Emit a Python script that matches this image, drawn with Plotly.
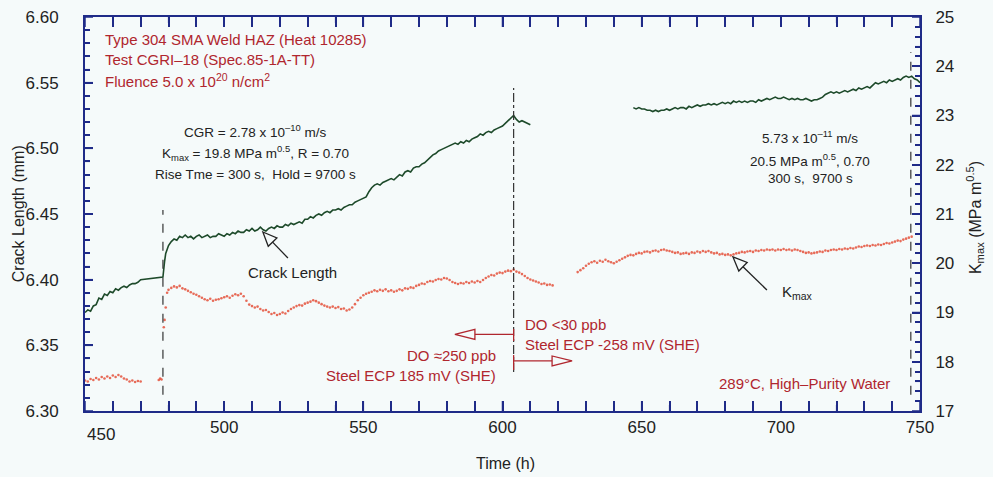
import numpy as np
import plotly.graph_objects as go

# ---------------- data ----------------
# Crack length (mm)
crack_a_start = 450          # hourly readings 450-470 h
crack_a = [6.375, 6.377, 6.376, 6.380, 6.381, 6.386, 6.385, 6.389, 6.388, 6.391,
           6.390, 6.393, 6.392, 6.394, 6.395, 6.394, 6.396, 6.397, 6.397, 6.398,
           6.400]
crack_jump_t = [478.0, 478.6]
crack_jump = [6.402, 6.414]
crack_b_start = 479          # hourly readings 479-610 h
crack_b = [6.420, 6.426, 6.429, 6.431, 6.430, 6.433, 6.432, 6.434, 6.432, 6.433,
           6.431, 6.433, 6.434, 6.432, 6.433, 6.434, 6.432, 6.433, 6.433, 6.435,
           6.434, 6.433, 6.435, 6.434, 6.436, 6.435, 6.437, 6.436, 6.436, 6.438,
           6.437, 6.439, 6.437, 6.438, 6.440, 6.438, 6.437, 6.439, 6.440, 6.439,
           6.441, 6.440, 6.440, 6.442, 6.441, 6.443, 6.442, 6.443, 6.444, 6.443,
           6.446, 6.446, 6.448, 6.447, 6.449, 6.450, 6.449, 6.451, 6.452, 6.451,
           6.453, 6.453, 6.454, 6.453, 6.455, 6.456, 6.457, 6.457, 6.459, 6.460,
           6.461, 6.462, 6.463, 6.467, 6.470, 6.472, 6.473, 6.472, 6.474, 6.475,
           6.476, 6.477, 6.476, 6.478, 6.480, 6.479, 6.482, 6.483, 6.482, 6.485,
           6.486, 6.486, 6.488, 6.489, 6.491, 6.493, 6.495, 6.496, 6.498, 6.499,
           6.500, 6.501, 6.502, 6.503, 6.504, 6.503, 6.505, 6.504, 6.506, 6.505,
           6.507, 6.508, 6.509, 6.511, 6.510, 6.512, 6.513, 6.512, 6.514, 6.515,
           6.516, 6.517, 6.519, 6.521, 6.523, 6.525, 6.522, 6.520, 6.521, 6.520,
           6.519, 6.518]
crack_c_start = 647          # hourly readings 647-750 h
crack_c = [6.531, 6.530, 6.531, 6.530, 6.530, 6.529, 6.529, 6.528, 6.529, 6.528,
           6.529, 6.529, 6.530, 6.529, 6.530, 6.531, 6.530, 6.531, 6.531, 6.530,
           6.532, 6.531, 6.532, 6.533, 6.532, 6.533, 6.533, 6.534, 6.533, 6.534,
           6.533, 6.534, 6.535, 6.534, 6.535, 6.534, 6.536, 6.535, 6.536, 6.535,
           6.536, 6.535, 6.536, 6.536, 6.535, 6.537, 6.536, 6.537, 6.538, 6.537,
           6.538, 6.539, 6.538, 6.538, 6.539, 6.538, 6.537, 6.538, 6.537, 6.538,
           6.537, 6.537, 6.538, 6.537, 6.536, 6.537, 6.537, 6.538, 6.539, 6.541,
           6.542, 6.543, 6.542, 6.543, 6.542, 6.543, 6.544, 6.543, 6.544, 6.545,
           6.544, 6.546, 6.545, 6.546, 6.547, 6.546, 6.548, 6.550, 6.549, 6.550,
           6.551, 6.550, 6.552, 6.551, 6.552, 6.553, 6.552, 6.554, 6.555, 6.554,
           6.555, 6.553, 6.552, 6.550]

# Kmax (MPa m^0.5)
kmax_a_start = 450           # hourly readings 450-470 h
kmax_a = [17.62, 17.60, 17.65, 17.63, 17.67, 17.64, 17.69, 17.66, 17.70, 17.67,
          17.72, 17.69, 17.73, 17.70, 17.66, 17.64, 17.60, 17.62, 17.59, 17.61,
          17.60]
kmax_mid_t = [476.5, 477.0, 477.5, 478.3, 478.6, 479.0, 479.5]
kmax_mid = [17.63, 17.66, 17.64, 18.70, 18.85, 19.10, 19.40]
kmax_b_start = 480           # hourly readings 480-618 h
kmax_b = [19.46, 19.50, 19.53, 19.51, 19.54, 19.49, 19.47, 19.44, 19.41, 19.38,
          19.36, 19.33, 19.30, 19.27, 19.25, 19.28, 19.24, 19.26, 19.27, 19.29,
          19.31, 19.33, 19.30, 19.34, 19.37, 19.35, 19.38, 19.33, 19.24, 19.16,
          19.13, 19.10, 19.12, 19.07, 19.04, 19.05, 19.01, 18.97, 18.99, 18.95,
          18.97, 19.00, 18.98, 19.03, 19.07, 19.10, 19.13, 19.15, 19.14, 19.18,
          19.20, 19.22, 19.25, 19.23, 19.20, 19.17, 19.14, 19.12, 19.10, 19.12,
          19.09, 19.11, 19.07, 19.08, 19.04, 19.06, 19.10, 19.17, 19.25, 19.30,
          19.35, 19.38, 19.40, 19.42, 19.45, 19.43, 19.46, 19.44, 19.47, 19.43,
          19.45, 19.42, 19.44, 19.47, 19.45, 19.49, 19.48, 19.51, 19.50, 19.54,
          19.56, 19.59, 19.58, 19.62, 19.64, 19.63, 19.66, 19.68, 19.67, 19.70,
          19.69, 19.66, 19.62, 19.60, 19.58, 19.60, 19.59, 19.62, 19.60, 19.63,
          19.61, 19.64, 19.62, 19.66, 19.70, 19.73, 19.76, 19.75, 19.79, 19.81,
          19.80, 19.83, 19.85, 19.84, 19.87, 19.83, 19.81, 19.78, 19.74, 19.70,
          19.67, 19.65, 19.63, 19.61, 19.58, 19.59, 19.56, 19.57, 19.55]
kmax_c_start = 627           # hourly readings 627-747 h
kmax_c = [19.82, 19.86, 19.90, 19.95, 19.99, 20.02, 20.04, 20.01, 20.05, 20.03,
          20.07, 20.04, 20.02, 20.00, 20.03, 20.06, 20.09, 20.12, 20.15, 20.17,
          20.16, 20.19, 20.21, 20.20, 20.23, 20.24, 20.22, 20.25, 20.26, 20.24,
          20.27, 20.28, 20.26, 20.25, 20.23, 20.21, 20.22, 20.19, 20.20, 20.21,
          20.19, 20.22, 20.21, 20.24, 20.22, 20.25, 20.23, 20.25, 20.22, 20.20,
          20.21, 20.18, 20.19, 20.17, 20.18, 20.16, 20.18, 20.20, 20.21, 20.23,
          20.22, 20.24, 20.25, 20.23, 20.26, 20.25, 20.27, 20.26, 20.28, 20.27,
          20.28, 20.26, 20.28, 20.27, 20.29, 20.27, 20.28, 20.26, 20.28, 20.27,
          20.25, 20.23, 20.21, 20.22, 20.20, 20.21, 20.22, 20.24, 20.23, 20.26,
          20.25, 20.27, 20.28, 20.27, 20.29, 20.28, 20.30, 20.29, 20.31, 20.30,
          20.32, 20.34, 20.33, 20.35, 20.36, 20.35, 20.37, 20.36, 20.38, 20.37,
          20.39, 20.41, 20.40, 20.42, 20.44, 20.46, 20.45, 20.48, 20.50, 20.52,
          20.54]

# Event times (h): load change, water chemistry change, end of test
t_load_change = 478
t_chem_change = 604
t_end = 746.7

# Axis ticks: first value, major step, minor step
x_ticks = (450, 50, 10)
y_ticks = (6.30, 0.05, 0.01)
y2_ticks = (17, 1, 0.2)

# ---------------- styling ----------------
W, H = 993, 477
M_L, M_R, M_T, M_B = 85, 73, 17, 66
X_RANGE = [450, 750]
Y_RANGE = [6.30, 6.60]
Y2_RANGE = [17, 25]
BG = "#f5fafa"
AXIS = "#1f2b88"
GREEN = "#1d4a2a"
KRED = "#e4472f"
TRED = "#b0262e"
DARK = "#222222"
FONT = "Liberation Sans, Arial, sans-serif"

PLOT_W = W - M_L - M_R
PLOT_H = H - M_T - M_B
px_per_h = PLOT_W / (X_RANGE[1] - X_RANGE[0])
px_per_mm = PLOT_H / (Y_RANGE[1] - Y_RANGE[0])


def k_to_mm(k):
    """Map a Kmax value onto the crack-length scale (both axes share the frame)."""
    return Y_RANGE[0] + (k - Y2_RANGE[0]) * (Y_RANGE[1] - Y_RANGE[0]) / (Y2_RANGE[1] - Y2_RANGE[0])


def hourly(start, vals):
    return [start + i for i in range(len(vals))]


def join(*segs):
    xs, ys = [], []
    for i, (sx, sy) in enumerate(segs):
        if i:
            xs.append(None)
            ys.append(None)
        xs += list(sx)
        ys += list(sy)
    return xs, ys


crack_x, crack_y = join(
    (hourly(crack_a_start, crack_a) + crack_jump_t + hourly(crack_b_start, crack_b),
     crack_a + crack_jump + crack_b),
    (hourly(crack_c_start, crack_c), crack_c),
)
kmax_x = hourly(kmax_a_start, kmax_a) + kmax_mid_t + hourly(kmax_b_start, kmax_b) + hourly(kmax_c_start, kmax_c)
kmax_y = kmax_a + kmax_mid + kmax_b + kmax_c

fig = go.Figure()
fig.add_trace(go.Scatter(x=crack_x, y=crack_y, mode="lines",
                         line=dict(color=GREEN, width=1.6), yaxis="y",
                         showlegend=False))
fig.add_trace(go.Scatter(x=kmax_x, y=kmax_y, mode="markers",
                         marker=dict(color=KRED, size=2.6, opacity=0.8),
                         yaxis="y2", showlegend=False))


# ---------------- frame tick marks (drawn as shapes in x/y units) ----------------
def tick_positions(spec, lo, hi):
    t0, major, minor = spec
    n_minor = int(round((hi - lo) / minor))
    ratio = int(round(major / minor))
    return [(t0 + i * minor, i % ratio == 0) for i in range(n_minor + 1)]


def seg(x0, y0, x1, y1, width):
    return dict(type="line", xref="x", yref="y", x0=x0, y0=y0, x1=x1, y1=y1,
                line=dict(color=AXIS, width=width))


def tick_marks():
    out = []
    for v, major in tick_positions(x_ticks, *X_RANGE):
        d = (10 if major else 6) / px_per_mm
        w = 1.5 if major else 1.2
        out.append(seg(v, Y_RANGE[0], v, Y_RANGE[0] + d, w))
        out.append(seg(v, Y_RANGE[1], v, Y_RANGE[1] - d, w))
    for v, major in tick_positions(y_ticks, *Y_RANGE):
        d = (8 if major else 5) / px_per_h
        out.append(seg(X_RANGE[0], v, X_RANGE[0] + d, v, 1.5 if major else 1.2))
    for v, major in tick_positions(y2_ticks, *Y2_RANGE):
        d = (8 if major else 5) / px_per_h
        out.append(seg(X_RANGE[1] - d, k_to_mm(v), X_RANGE[1], k_to_mm(v), 1.5 if major else 1.2))
    return out


def open_arrow(tip, tail, color, head_len, head_half, width=1.3):
    """Arrow with a hollow triangular head, drawn in crack-length coordinates."""
    tx, ty = tip[0] * px_per_h, tip[1] * px_per_mm
    lx, ly = tail[0] * px_per_h, tail[1] * px_per_mm
    dx, dy = lx - tx, ly - ty
    n = np.hypot(dx, dy)
    dx, dy = dx / n, dy / n
    bx, by = tx + dx * head_len, ty + dy * head_len
    px, py = -dy, dx
    pts = [(tx, ty), (bx + px * head_half, by + py * head_half),
           (bx - px * head_half, by - py * head_half)]
    path = "M " + " L ".join(f"{x / px_per_h:.5f},{y / px_per_mm:.6f}" for x, y in pts) + " Z"
    return [
        dict(type="line", xref="x", yref="y", x0=bx / px_per_h, y0=by / px_per_mm,
             x1=tail[0], y1=tail[1], line=dict(color=color, width=width)),
        dict(type="path", xref="x", yref="y", path=path, fillcolor="rgba(0,0,0,0)",
             line=dict(color=color, width=width)),
    ]


shapes = [
    dict(type="line", xref="x", yref="y", x0=t_load_change, x1=t_load_change,
         y0=6.3123, y1=6.4531, line=dict(color="#333333", width=1.2, dash="dash")),
    dict(type="line", xref="x", yref="y", x0=t_chem_change, x1=t_chem_change,
         y0=6.3297, y1=6.546, line=dict(color="#333333", width=1.2, dash="dashdot")),
    dict(type="line", xref="x", yref="y", x0=t_end, x1=t_end,
         y0=6.3123, y1=6.5734, line=dict(color="#333333", width=1.2, dash="dash")),
    dict(type="line", xref="x", yref="y", x0=t_chem_change, x1=t_chem_change,
         y0=6.3533, y1=6.3625, line=dict(color=TRED, width=1.3)),
    dict(type="line", xref="x", yref="y", x0=t_chem_change, x1=t_chem_change,
         y0=6.3312, y1=6.3426, line=dict(color=TRED, width=1.3)),
]
shapes += open_arrow((513.9, 6.4363), (522.9, 6.4165), DARK, 14, 6)
shapes += open_arrow((682.8, 6.4173), (695.0, 6.3921), DARK, 14, 6)
shapes += open_arrow((582.9, 6.3583), (t_chem_change, 6.3583), TRED, 20, 5)
shapes += open_arrow((625.0, 6.3381), (t_chem_change, 6.3381), TRED, 20, 5)
shapes += tick_marks()


def note(x, y, text, color, size, anchor="center"):
    return dict(x=x, y=y, xref="x", yref="y", text=text, showarrow=False,
                xanchor=anchor, yanchor="middle",
                font=dict(family=FONT, size=size, color=color))


def axis_title(x, y, text, angle=0):
    return dict(x=x, y=y, xref="paper", yref="paper", text=text, showarrow=False,
                textangle=angle, xanchor="center", yanchor="middle",
                font=dict(family=FONT, size=16, color=DARK))


nb = "\u00a0"
annotations = [
    note(456.5, 6.5825, "Type 304 SMA Weld HAZ (Heat 10285)", TRED, 15, "left"),
    note(456.5, 6.5680, "Test CGRI\u201318 (Spec.85-1A-TT)", TRED, 15, "left"),
    note(456.5, 6.5515, "Fluence 5.0 x 10<sup>20</sup> n/cm<sup>2</sup>", TRED, 15, "left"),
    note(511.1, 6.5132, "CGR = 2.78 x 10<sup>\u201310</sup> m/s", DARK, 13.5),
    note(511.1, 6.4964, "K<sub>max</sub> = 19.8 MPa m<sup>0.5</sup>, R = 0.70", DARK, 13.5),
    note(511.1, 6.4797, f"Rise Tme = 300 s,{nb} Hold = 9700 s", DARK, 13.5),
    note(710.5, 6.5086, "5.73 x 10<sup>\u201311</sup> m/s", DARK, 13.5),
    note(710.5, 6.4911, "20.5 MPa m<sup>0.5</sup>, 0.70", DARK, 13.5),
    note(710.5, 6.4774, f"300 s,{nb} 9700 s", DARK, 13.5),
    note(524.4, 6.4058, "Crack Length", DARK, 15),
    note(706.0, 6.3900, "K<sub>max</sub>", DARK, 15),
    note(607.4, 6.3662, "DO &lt;30 ppb", TRED, 15, "left"),
    note(607.4, 6.3503, "Steel ECP -258 mV (SHE)", TRED, 15, "left"),
    note(598.4, 6.3426, "DO \u2248250 ppb", TRED, 15, "right"),
    note(598.4, 6.3267, "Steel ECP 185 mV (SHE)", TRED, 15, "right"),
    note(739.9, 6.3206, "289\u00b0C, High\u2013Purity Water", TRED, 15, "right"),
    # first time label sits a little to the right of the corner
    dict(x=x_ticks[0], y=0, xref="x", yref="paper", text=str(x_ticks[0]), showarrow=False,
         xanchor="center", yanchor="top", xshift=16, yshift=-12,
         font=dict(family=FONT, size=17, color=DARK)),
    axis_title(0.503, -0.132, "Time (h)"),
    axis_title(-0.080, 0.50, "Crack Length (mm)", -90),
    axis_title(1.066, 0.49, "K<sub>max</sub> (MPa m<sup>0.5</sup>)", -90),
]

tick_font = dict(family=FONT, size=17, color=DARK)


def axis_base(spec, major_len):
    t0, major, minor = spec
    return dict(
        tickmode="linear", tick0=t0, dtick=major,
        ticks="inside", ticklen=major_len, tickwidth=1.5, tickcolor=AXIS,
        minor=dict(dtick=minor, ticks="inside", ticklen=5, tickcolor=AXIS),
        showline=True, linecolor=AXIS, linewidth=2,
        showgrid=False, zeroline=False, tickfont=tick_font,
    )


fig.update_layout(
    width=W, height=H, showlegend=False,
    margin=dict(l=M_L, r=M_R, t=M_T, b=M_B, autoexpand=False),
    paper_bgcolor=BG, plot_bgcolor=BG,
    shapes=shapes, annotations=annotations,
    xaxis=dict(range=X_RANGE, mirror="allticks", labelalias={str(x_ticks[0]): " "},
               **axis_base(x_ticks, 10)),
    yaxis=dict(range=Y_RANGE, tickformat=".2f", ticklabelstandoff=21,
               **axis_base(y_ticks, 8)),
    yaxis2=dict(range=Y2_RANGE, overlaying="y", side="right", ticklabelstandoff=10,
                **axis_base(y2_ticks, 8)),
)

fig.write_html("out.html")
